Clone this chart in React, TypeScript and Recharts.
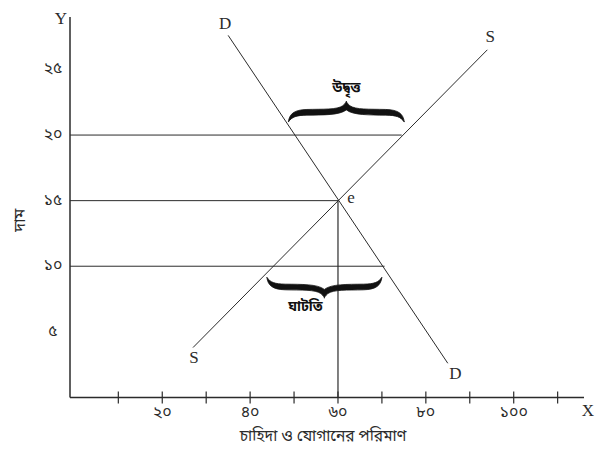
import React from "react"
import {
    ComposedChart,
    Line,
    XAxis,
    YAxis,
    ReferenceLine,
    ReferenceDot,
} from "recharts"

// quantity (x) / price (y)
const demand = [{ q: 35, p: 27.6 }, { q: 85, p: 2.6 }]
const supply = [{ q: 27, p: 3.8 }, { q: 94, p: 26.5 }]
const equilibrium = { q: 60, p: 15 }
const priceGuides = [
    { p: 20, qEnd: 74.5 },
    { p: 15, qEnd: 60 },
    { p: 10, qEnd: 70.6 },
]
const surplus = { p: 20, from: 48.7, to: 75.1, label: "উদ্বৃত্ত" }
const shortage = { p: 10, from: 43.8, to: 70, label: "ঘাটতি" }

const xTicks = [10, 20, 30, 40, 50, 60, 70, 80, 90, 100, 110]
const xTickLabels: Record<number, string> = { 20: "২০", 40: "৪০", 60: "৬০", 80: "৮০", 100: "১০০" }
const yTicks = [5, 10, 15, 20, 25]
const yTickLabels: Record<number, string> = { 5: "৫", 10: "১০", 15: "১৫", 20: "২০", 25: "২৫" }

const BN = "'Noto Sans Bengali', 'Noto Serif Bengali', 'Lohit Bengali', FreeSerif, 'Noto Sans', sans-serif"
const SERIF = "'Liberation Serif', 'DejaVu Serif', serif"
const INK = "#2b2b2b"

function XTick({ x, y, payload }: any) {
    const txt = xTickLabels[payload.value]
    return (
        <g>
            <line x1={x} x2={x} y1={y - 6} y2={y + 6} stroke={INK} strokeWidth={1.2} />
            {txt && (
                <text x={x} y={y + 16} textAnchor="middle" dominantBaseline="central" fontSize={16} fill={INK} fontFamily={BN}>
                    {txt}
                </text>
            )}
        </g>
    )
}

function YTick({ x, y, payload }: any) {
    return (
        <text x={x - 17} y={y} dominantBaseline="central" textAnchor="middle" fontSize={16} fill={INK} fontFamily={BN}>
            {yTickLabels[payload.value]}
        </text>
    )
}

// filled curly brace between two pixel x's; gap/height in px, up = tip points up
function bracePath(xa: number, xb: number, yBase: number, up: boolean, gap: number, h: number) {
    const w = xb - xa
    const P = (u: number, v: number) => {
        // v = 0 at tip, 1 at the ends
        const dist = gap + (1 - v) * h
        return `${xa + u * w},${up ? yBase - dist : yBase + dist}`
    }
    return `M${P(0, 1)} C${P(0.01, 0.6)} ${P(0.05, 0.42)} ${P(0.16, 0.4)} C${P(0.3, 0.38)} ${P(0.42, 0.42)} ${P(0.47, 0.22)} C${P(0.49, 0.12)} ${P(0.5, 0.05)} ${P(0.5, 0)} C${P(0.5, 0.05)} ${P(0.51, 0.12)} ${P(0.53, 0.22)} C${P(0.58, 0.42)} ${P(0.7, 0.38)} ${P(0.84, 0.4)} C${P(0.95, 0.42)} ${P(0.99, 0.6)} ${P(1, 1)} C${P(0.97, 0.75)} ${P(0.93, 0.68)} ${P(0.84, 0.67)} C${P(0.7, 0.66)} ${P(0.56, 0.68)} ${P(0.5, 0.42)} C${P(0.44, 0.68)} ${P(0.3, 0.66)} ${P(0.16, 0.67)} C${P(0.07, 0.68)} ${P(0.03, 0.75)} ${P(0, 1)} Z`
}

const braceShape = (up: boolean, label: string, labelDx: number, labelDy: number) => (props: any) => {
    const { x1, x2, y1 } = props
    const d = bracePath(x1, x2, y1, up, up ? 13 : 11, 21)
    return (
        <g>
            <path d={d} fill="#111" stroke="#111" strokeWidth={0.8} />
            <text
                x={(x1 + x2) / 2 + labelDx}
                y={y1 + labelDy}
                textAnchor="middle"
                dominantBaseline="central"
                fontSize={14}
                fontWeight={700}
                fill="#111"
                fontFamily={BN}
            >
                {label}
            </text>
        </g>
    )
}

const letter = (txt: string, dx: number, dy: number) => (props: any) => (
    <text
        x={props.cx + dx}
        y={props.cy + dy}
        textAnchor="middle"
        dominantBaseline="central"
        fontSize={17}
        fill={INK}
        fontFamily={SERIF}
    >
        {txt}
    </text>
)

function XTitle(props: any) {
    const vb = props.viewBox
    return (
        <g>
            <text x={vb.x + vb.width / 2 - 4} y={vb.y + 40} textAnchor="middle" dominantBaseline="central" fontSize={15.5} fill={INK} fontFamily={BN}>
                চাহিদা ও যোগানের পরিমাণ
            </text>
            <text x={vb.x + vb.width + 4} y={vb.y + 13} textAnchor="middle" dominantBaseline="central" fontSize={17} fill={INK} fontFamily={SERIF}>
                X
            </text>
        </g>
    )
}

function YTitle(props: any) {
    const vb = props.viewBox
    const cy = vb.y + vb.height / 2 + 13
    return (
        <g>
            <text x={21} y={cy} transform={`rotate(-90, 21, ${cy})`} textAnchor="middle" dominantBaseline="central" fontSize={16} fill={INK} fontFamily={BN}>
                দাম
            </text>
            <text x={vb.x + vb.width - 9} y={vb.y + 1} textAnchor="middle" dominantBaseline="central" fontSize={17} fill={INK} fontFamily={SERIF}>
                Y
            </text>
        </g>
    )
}

export default function App() {
    return (
        <div style={{ position: "absolute", left: 0, top: 0, width: 595, height: 450, background: "#fff" }}>
            <ComposedChart width={595} height={450} margin={{ top: 17, right: 11, left: 0, bottom: 22.6 }}>
                <XAxis
                    type="number"
                    dataKey="q"
                    domain={[-1, 116]}
                    allowDataOverflow
                    ticks={xTicks}
                    interval={0}
                    height={30}
                    tickSize={0}
                    tickMargin={0}
                    tickLine={false}
                    tick={<XTick />}
                    axisLine={{ stroke: INK, strokeWidth: 1.5 }}
                    label={{ content: (p: any) => <XTitle {...p} /> }}
                />
                <YAxis
                    type="number"
                    dataKey="p"
                    domain={[0, 29]}
                    allowDataOverflow
                    ticks={yTicks}
                    interval={0}
                    width={70}
                    tickSize={0}
                    tickMargin={0}
                    tickLine={false}
                    tick={<YTick />}
                    axisLine={{ stroke: INK, strokeWidth: 1.5 }}
                    label={{ content: (p: any) => <YTitle {...p} /> }}
                />

                {priceGuides.map((g) => (
                    <ReferenceLine
                        key={g.p}
                        segment={[{ x: -1, y: g.p }, { x: g.qEnd, y: g.p }]}
                        stroke={INK}
                        strokeWidth={1}
                        ifOverflow="visible"
                    />
                ))}
                <ReferenceLine
                    segment={[{ x: equilibrium.q, y: 0 }, { x: equilibrium.q, y: equilibrium.p }]}
                    stroke={INK}
                    strokeWidth={1.2}
                />

                <Line data={demand} dataKey="p" type="linear" stroke={INK} strokeWidth={1} dot={false} activeDot={false} isAnimationActive={false} />
                <Line data={supply} dataKey="p" type="linear" stroke={INK} strokeWidth={1} dot={false} activeDot={false} isAnimationActive={false} />

                <ReferenceLine
                    segment={[{ x: surplus.from, y: surplus.p }, { x: surplus.to, y: surplus.p }]}
                    shape={braceShape(true, surplus.label, 0, -47)}
                />
                <ReferenceLine
                    segment={[{ x: shortage.from, y: shortage.p }, { x: shortage.to, y: shortage.p }]}
                    shape={braceShape(false, shortage.label, -19, 41)}
                />

                <ReferenceDot x={demand[0].q} y={demand[0].p} r={0} shape={letter("D", -3, -12)} ifOverflow="visible" />
                <ReferenceDot x={demand[1].q} y={demand[1].p} r={0} shape={letter("D", 7.5, 10)} ifOverflow="visible" />
                <ReferenceDot x={supply[0].q} y={supply[0].p} r={0} shape={letter("S", 1, 10)} ifOverflow="visible" />
                <ReferenceDot x={supply[1].q} y={supply[1].p} r={0} shape={letter("S", 3, -13)} ifOverflow="visible" />
                <ReferenceDot x={equilibrium.q} y={equilibrium.p} r={0} shape={letter("e", 13, -3)} ifOverflow="visible" />
            </ComposedChart>
        </div>
    )
}
